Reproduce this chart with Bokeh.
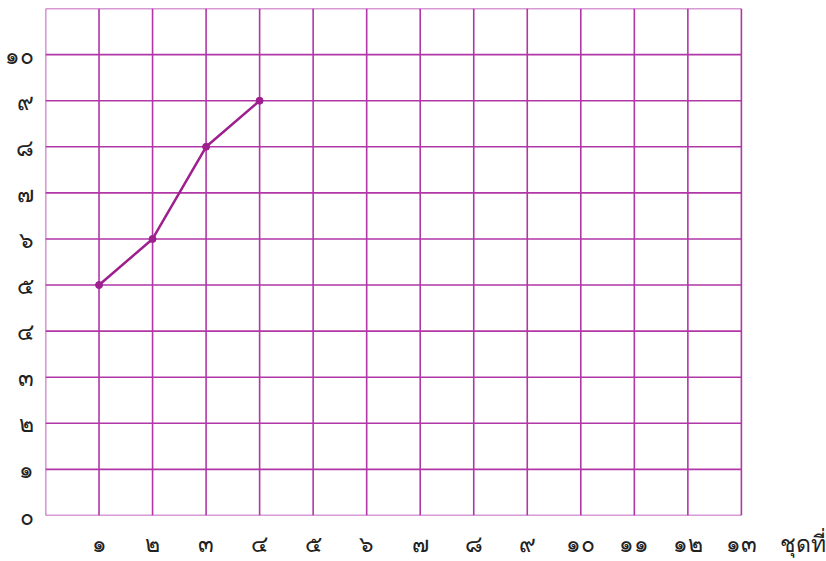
from bokeh.plotting import figure
from bokeh.models import FixedTicker, Range1d
from bokeh.embed import file_html
from bokeh.resources import INLINE

sets = [1, 2, 3, 4]
values = [5, 6, 8, 9]
x_ticks = list(range(1, 14))
x_tick_labels = ["๑", "๒", "๓", "๔", "๕", "๖", "๗", "๘", "๙", "๑๐", "๑๑", "๑๒", "๑๓"]
y_ticks = list(range(0, 11))
y_tick_labels = ["๐", "๑", "๒", "๓", "๔", "๕", "๖", "๗", "๘", "๙", "๑๐"]
x_title = "ชุดที่"
grid_x = list(range(0, 14))
grid_y = list(range(0, 12))

GRID = "#B136A8"
LINE = "#9E1F8E"
FONT = "Noto Sans"

x_max = grid_x[-1]
y_max = grid_y[-1]
title_pos = x_max + 1.16

p = figure(width=826, height=561, output_backend="svg", toolbar_location=None,
           x_range=Range1d(0, x_max + 1.59), y_range=Range1d(0, y_max),
           min_border_left=45, min_border_right=0, min_border_top=8, min_border_bottom=40)
p.background_fill_color = "white"
p.border_fill_color = "white"
p.outline_line_color = None
p.xgrid.visible = False
p.ygrid.visible = False

# grid drawn as segments so the frame can extend past the last column for the axis title
p.segment(x0=grid_x, y0=[0] * len(grid_x), x1=grid_x, y1=[y_max] * len(grid_x),
          line_color=GRID, line_width=1.6)
p.segment(x0=[0] * len(grid_y), y0=grid_y, x1=[x_max] * len(grid_y), y1=grid_y,
          line_color=GRID, line_width=1.6)

xt = x_ticks + [title_pos]
p.xaxis.ticker = FixedTicker(ticks=xt)
ov = {t: l for t, l in zip(x_ticks, x_tick_labels)}
ov[title_pos] = x_title
p.xaxis.major_label_overrides = ov
p.yaxis.ticker = FixedTicker(ticks=y_ticks)
p.yaxis.major_label_overrides = {t: l for t, l in zip(y_ticks, y_tick_labels)}
for ax in (p.xaxis, p.yaxis):
    ax.axis_line_color = None
    ax.major_tick_line_color = None
    ax.minor_tick_line_color = None
    ax.major_label_text_font = FONT
    ax.major_label_text_font_size = "23px"
    ax.major_label_text_color = "#222222"
p.xaxis.major_label_standoff = 5
p.yaxis.major_label_standoff = 6

p.line(sets, values, line_color=LINE, line_width=2.5)
p.scatter(sets, values, size=7, color=LINE)

open("out.html", "w").write(file_html(p, INLINE))
